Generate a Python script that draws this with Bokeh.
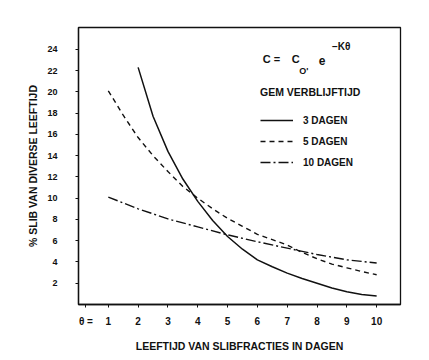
from bokeh.plotting import figure
from bokeh.models import Range1d, Label, Legend, LegendItem, FixedTicker
from bokeh.embed import file_html
from bokeh.resources import INLINE

# ---- data ----
theta_3 = [2, 2.5, 3, 3.5, 4, 4.5, 5, 5.5, 6, 6.5, 7, 7.5, 8, 8.5, 9, 9.5, 10]
pct_3 = [22.3, 17.7, 14.4, 11.8, 9.7, 7.9, 6.4, 5.2, 4.2, 3.55, 2.95, 2.45, 2.0, 1.55, 1.2, 0.95, 0.8]

theta_5 = [1, 1.5, 2, 2.5, 3, 3.5, 4, 4.5, 5, 5.5, 6, 6.5, 7, 7.5, 8, 8.5, 9, 9.5, 10]
pct_5 = [20.1, 17.8, 15.7, 14.0, 12.5, 11.1, 10.0, 9.0, 8.1, 7.35, 6.6, 6.1, 5.6, 4.9, 4.3, 3.8, 3.45, 3.1, 2.8]

theta_10 = [1, 2, 3, 4, 5, 6, 7, 8, 9, 10]
pct_10 = [10.1, 9.0, 8.05, 7.3, 6.55, 5.9, 5.3, 4.7, 4.2, 3.9]

x_ticks = [1, 2, 3, 4, 5, 6, 7, 8, 9, 10]
y_ticks = [2, 4, 6, 8, 10, 12, 14, 16, 18, 20, 22, 24]
theta_marker = "\u03b8 ="
series_labels = ["3 DAGEN", "5 DAGEN", "10 DAGEN"]
legend_title = "GEM VERBLIJFTIJD"
x_title = "LEEFTIJD VAN SLIBFRACTIES IN DAGEN"
y_title = "% SLIB VAN DIVERSE LEEFTIJD"

FONT = "Liberation Sans"
INK = "#111111"

p = figure(width=429, height=360, output_backend="svg", toolbar_location=None,
           x_range=Range1d(0, 10.8), y_range=Range1d(0, 26.05),
           min_border_left=78, min_border_right=29, min_border_top=27, min_border_bottom=56)
p.background_fill_color = "white"
p.border_fill_color = "white"
p.grid.visible = False
p.outline_line_color = INK
p.outline_line_width = 1.3

for ax in (p.xaxis[0], p.yaxis[0]):
    ax.axis_line_color = INK
    ax.axis_line_width = 1.3
    ax.major_tick_in = 0
    ax.major_tick_out = 3
    ax.major_tick_line_color = INK
    ax.minor_tick_line_color = None
    ax.major_label_text_font = FONT
    ax.major_label_text_font_style = "bold"
    ax.major_label_text_color = INK
    ax.axis_label_text_font = FONT
    ax.axis_label_text_font_style = "bold"
    ax.axis_label_text_font_size = "10.5px"
    ax.axis_label_text_color = INK

# the "theta =" marker sits left of the first tick on the x axis
marker_pos = 0.25
p.xaxis.ticker = FixedTicker(ticks=[marker_pos] + x_ticks)
p.xaxis.major_label_overrides = {marker_pos: theta_marker}
p.yaxis.ticker = FixedTicker(ticks=y_ticks)
p.xaxis.major_label_text_font_size = "10px"
p.yaxis.major_label_text_font_size = "9px"
p.xaxis.major_label_standoff = 8
p.yaxis.major_label_standoff = 18
p.xaxis.axis_label = x_title
p.xaxis.axis_label_standoff = 10
p.yaxis.axis_label = y_title
p.yaxis.axis_label_standoff = 5

r3 = p.line(theta_3, pct_3, line_color=INK, line_width=1.5)
r5 = p.line(theta_5, pct_5, line_color=INK, line_width=1.4, line_dash="5 4")
r10 = p.line(theta_10, pct_10, line_color=INK, line_width=1.4, line_dash="10 3 2 3")

legend = Legend(items=[LegendItem(label=series_labels[0], renderers=[r3]),
                       LegendItem(label=series_labels[1], renderers=[r5]),
                       LegendItem(label=series_labels[2], renderers=[r10])],
                location=(182, 133), title=legend_title,
                title_text_font=FONT, title_text_font_style="bold", title_text_font_size="10.5px",
                title_text_color=INK, title_standoff=13,
                label_text_font=FONT, label_text_font_style="bold", label_text_font_size="10px",
                label_text_color=INK, glyph_width=33, glyph_height=18, label_height=18,
                label_standoff=10, spacing=3, padding=0, margin=0,
                border_line_color=None, background_fill_alpha=0)
p.add_layout(legend, "center")

def lab(x, y, text, size, align="left"):
    p.add_layout(Label(x=x, y=y, text=text, text_font=FONT, text_font_style="bold",
                       text_font_size=size, text_color=INK, text_align=align,
                       text_baseline="middle"))

# formula  C = C0 e^(-K theta)
lab(6.18, 23.1, "C =", "11px")
lab(7.15, 23.1, "C", "11px")
lab(7.40, 22.0, "O'", "9px")
lab(8.06, 22.95, "e", "12px")
lab(8.50, 24.3, "\u2212K\u03b8", "10px")

open("out.html", "w").write(file_html(p, INLINE))
